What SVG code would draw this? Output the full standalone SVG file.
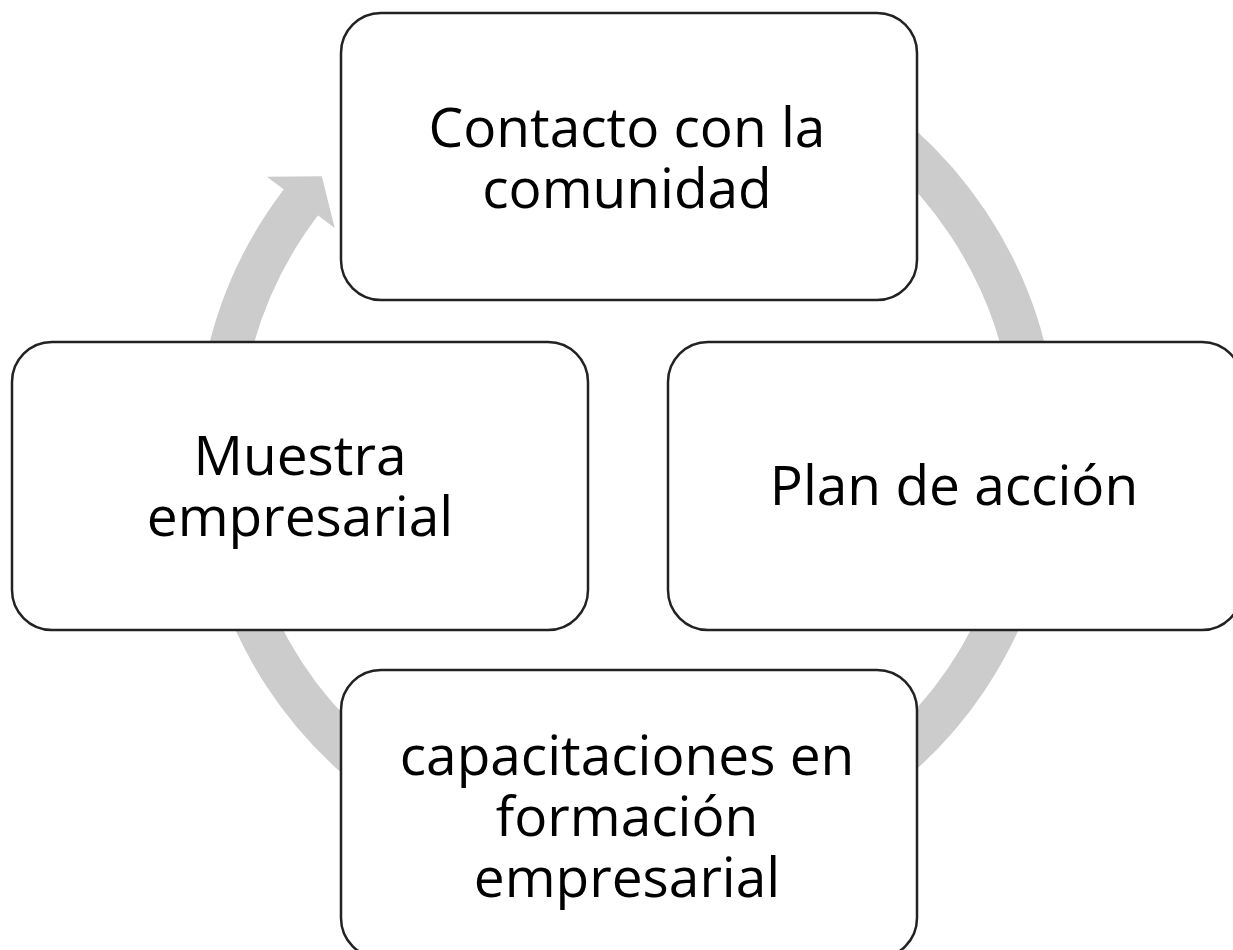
<svg xmlns="http://www.w3.org/2000/svg" width="1233" height="950" viewBox="0 0 1233 950">
  <style>
    .ring { fill: none; stroke: #cccccc; stroke-width: 43; }
    .head { fill: #cccccc; stroke: none; }
    .box { fill: #ffffff; stroke: #222222; stroke-width: 2.5; }
    .lbl { font-family: "Open Sans", "Noto Sans", sans-serif; font-size: 55px; fill: #000000; text-anchor: middle; }
  </style>
  <rect x="0" y="0" width="1233" height="950" fill="#ffffff"/>
  <g id="connectors">
    <path class="ring" d="M 422.25 95.37 A 409.5 409.5 0 1 1 306.52 195.08"/>
    <polygon class="head" points="266.97,176.72 321.83,176.19 334.67,228.11"/>
  </g>
  <g id="node-contacto">
    <rect class="box" x="341" y="13" width="576" height="287" rx="40" ry="40"/>
    <text class="lbl" x="627" y="147">Contacto con la</text>
    <text class="lbl" x="627" y="208">comunidad</text>
  </g>
  <g id="node-plan">
    <rect class="box" x="668" y="342" width="574" height="288" rx="40" ry="40"/>
    <text class="lbl" x="954" y="505">Plan de acción</text>
  </g>
  <g id="node-capacitaciones">
    <rect class="box" x="341" y="670" width="576" height="288" rx="40" ry="40"/>
    <text class="lbl" x="627" y="775">capacitaciones en</text>
    <text class="lbl" x="627" y="836">formación</text>
    <text class="lbl" x="627" y="897">empresarial</text>
  </g>
  <g id="node-muestra">
    <rect class="box" x="12" y="342" width="576" height="288" rx="40" ry="40"/>
    <text class="lbl" x="300" y="475">Muestra</text>
    <text class="lbl" x="300" y="536">empresarial</text>
  </g>
</svg>
